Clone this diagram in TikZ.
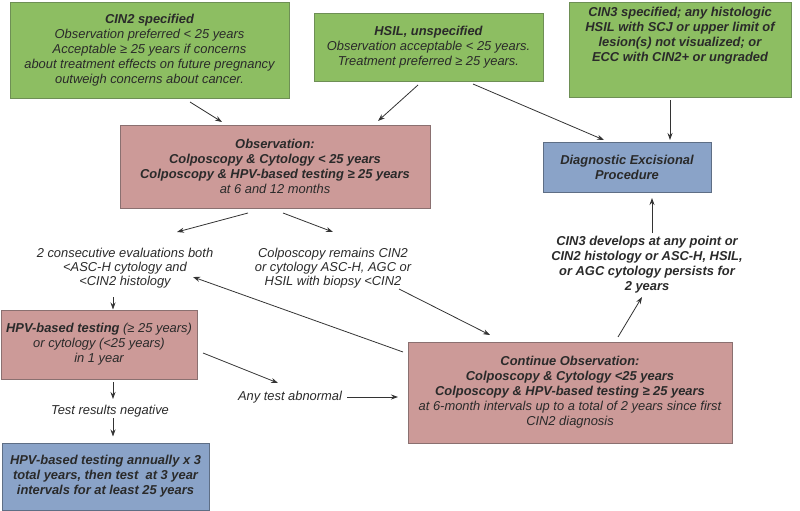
\documentclass[tikz,border=0pt]{standalone}
\usepackage{fontspec}
\setmainfont{Liberation Sans}
\usetikzlibrary{arrows.meta,calc}
\definecolor{grn}{HTML}{8DBE62}
\definecolor{grnb}{HTML}{6E8F55}
\definecolor{pnk}{HTML}{CC9A98}
\definecolor{pnkb}{HTML}{8A7070}
\definecolor{blu}{HTML}{8AA3C8}
\definecolor{blub}{HTML}{5E6E85}
\definecolor{txt}{HTML}{2A2A2A}
\definecolor{ln}{HTML}{333333}
\begin{document}
\begin{tikzpicture}[x=1pt,y=-1pt,
  every node/.style={font=\fontsize{12.9}{15}\selectfont\itshape, text=txt, align=center, inner sep=0pt},
  plain/.style={font=\fontsize{12.9}{14.2}\selectfont\itshape},
  box/.style={draw, line width=0.8pt},
  gbox/.style={box, fill=grn, draw=grnb},
  pbox/.style={box, fill=pnk, draw=pnkb},
  bbox/.style={box, fill=blu, draw=blub},
  arr/.style={draw=ln, line width=0.8pt, -{Stealth[length=7pt,width=5pt]}}]
\useasboundingbox (0,0) rectangle (800,511);
% boxes
\node[gbox, minimum width=279pt, minimum height=96pt] (cin2) at (149.5,50)
  {\textbf{CIN2 specified}\\Observation preferred < 25 years\\Acceptable ≥ 25 years if concerns\\about treatment effects on future pregnancy\\outweigh concerns about cancer.};
\node[gbox, minimum width=229pt, minimum height=68pt] (hsil) at (428.5,47)
  {\textbf{HSIL, unspecified}\\Observation acceptable < 25 years.\\Treatment preferred ≥ 25 years.};
\node[gbox, minimum width=222pt, minimum height=95pt] (cin3) at (680,49.5) {};
\node (cin3t) at (680,36) {\bfseries CIN3 specified; any histologic\\\bfseries HSIL with SCJ or upper limit of\\\bfseries lesion(s) not visualized; or\\\bfseries ECC with CIN2+ or ungraded};
\node[pbox, minimum width=310pt, minimum height=83pt] (obs) at (275,166.5)
  {\textbf{Observation:}\\\textbf{Colposcopy \& Cytology < 25 years}\\\textbf{Colposcopy \& HPV-based testing ≥ 25 years}\\at 6 and 12 months};
\node[bbox, minimum width=168pt, minimum height=50pt] (diag) at (627,167)
  {\textbf{Diagnostic Excisional}\\\textbf{Procedure}};
\node[plain] (cons) at (125,268) {2 consecutive evaluations both\\<ASC-H cytology and\\<CIN2 histology};
\node[plain] (rem) at (333,268) {Colposcopy remains CIN2\\or cytology ASC-H, AGC or\\HSIL with biopsy <CIN2};
\node (dev) at (647,265) {\bfseries CIN3 develops at any point or\\\bfseries CIN2 histology or ASC-H, HSIL,\\\bfseries or AGC cytology persists for\\\bfseries 2 years};
\node[pbox, minimum width=196pt, minimum height=69pt] (hpv) at (99,344.5)
  {\textbf{HPV-based testing} (≥ 25 years)\\or cytology (<25 years)\\in 1 year};
\node (neg) at (110,411) {Test results negative};
\node (abn) at (290,397) {Any test abnormal};
\node[bbox, minimum width=207pt, minimum height=67pt] (fin) at (105.5,476.5)
  {\textbf{HPV-based testing annually x 3}\\\textbf{total years, then test\ \ at 3 year}\\\textbf{intervals for at least 25 years}};
\node[pbox, minimum width=324pt, minimum height=101pt] (cont) at (570,392.5)
  {\textbf{Continue Observation:}\\\textbf{Colposcopy \& Cytology <25 years}\\\textbf{Colposcopy \& HPV-based testing ≥ 25 years}\\at 6-month intervals up to a total of 2 years since first\\CIN2 diagnosis};
% connectors
\draw[arr] ($(cin2)+(40.5,52)$) -- ($(obs)+(-53,-44.5)$);
\draw[arr] ($(hsil)+(-10.5,38)$) -- ($(obs)+(103,-45.5)$);
\draw[arr] ($(hsil)+(44.5,37)$) -- ($(diag)+(-23,-27)$);
\draw[arr] ($(cin3)+(-10,50.5)$) -- ($(diag)+(43,-27)$);
\draw[arr] ($(obs)+(-27,46.5)$) -- ($(cons)+(52,-36)$);
\draw[arr] ($(obs)+(8,46.5)$) -- ($(rem)+(0,-36)$);
\draw[arr] ($(cons)+(-12,29)$) -- ($(hpv)+(14,-35)$);
\draw[arr] ($(rem)+(66,21)$) -- ($(cont)+(-80,-57.5)$);
\draw[arr] ($(cont)+(-167,-40.5)$) -- ($(cons)+(68,9)$);
\draw[arr] ($(hpv)+(104,8.5)$) -- ($(abn)+(-12,-14)$);
\draw[arr] ($(abn)+(57,0)$) -- ($(cont)+(-172,4.5)$);
\draw[arr] ($(hpv)+(14,37.5)$) -- ($(neg)+(3,-12)$);
\draw[arr] ($(neg)+(3,7)$) -- ($(fin)+(7.5,-40)$);
\draw[arr] ($(cont)+(48,-55.5)$) -- ($(dev)+(-5,32)$);
\draw[arr] ($(dev)+(5,-32)$) -- ($(diag)+(25,31)$);
\end{tikzpicture}
\end{document}
